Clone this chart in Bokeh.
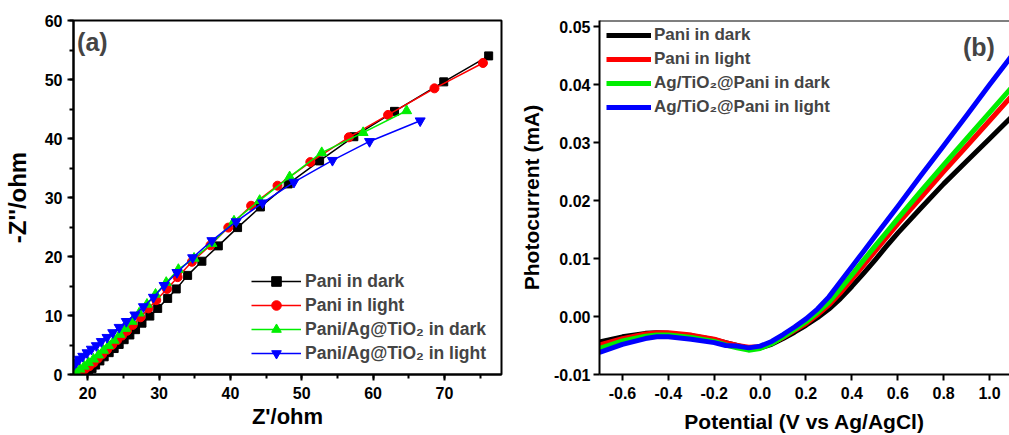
from bokeh.plotting import figure
from bokeh.layouts import row
from bokeh.models import (Range1d, SingleIntervalTicker, NumeralTickFormatter, Legend,
                          LegendItem, Label, Span)
from bokeh.embed import file_html
from bokeh.resources import INLINE

FONT = "Liberation Sans"

# ---------------- Panel (a): Nyquist data ----------------
dark_x = [19.6, 20.1, 20.6, 21.1, 21.7, 22.3, 23.0, 23.7, 24.4, 25.1, 25.9, 26.7, 27.6, 28.7,
          29.8, 31.2, 32.4, 34.0, 36.0, 38.3, 41.0, 44.2, 48.1, 52.5, 57.3, 63.0, 69.9, 76.2]
dark_y = [0.0, 0.5, 1.0, 1.6, 2.3, 3.0, 3.7, 4.4, 5.1, 5.9, 6.7, 7.6, 8.7, 9.9,
          11.2, 12.9, 14.5, 16.8, 19.2, 21.8, 24.9, 28.4, 32.3, 36.2, 40.3, 44.6, 49.6, 54.0]

light_x = [18.5, 19.0, 19.6, 20.2, 20.8, 21.4, 22.0, 22.7, 23.4, 24.1, 24.8, 25.5, 26.3, 27.4,
           28.5, 29.6, 31.1, 32.6, 34.6, 37.2, 39.7, 42.9, 46.6, 51.2, 56.6, 62.1, 68.6, 75.4]
light_y = [0.0, 0.4, 0.9, 1.4, 2.0, 2.7, 3.4, 4.2, 5.0, 5.8, 6.6, 7.4, 8.4, 9.7,
           11.2, 12.6, 14.5, 16.5, 19.1, 21.9, 24.9, 28.6, 32.0, 36.0, 40.2, 44.0, 48.5, 52.8]

agd_x = [18.3, 18.9, 19.5, 20.1, 20.8, 21.5, 22.2, 22.9, 23.7, 24.5, 25.3, 26.2, 27.2, 28.3,
         29.5, 31.0, 32.7, 34.9, 37.4, 40.5, 44.1, 48.3, 52.8, 58.6, 64.7]
agd_y = [0.5, 0.9, 1.4, 2.0, 2.6, 3.3, 4.1, 4.9, 5.8, 6.8, 7.8, 9.0, 10.4, 11.9,
         13.6, 15.6, 17.8, 19.7, 22.2, 26.0, 29.5, 33.5, 37.6, 41.0, 44.7]

agl_x = [18.1, 18.4, 18.8, 19.3, 19.9, 20.5, 21.2, 21.9, 22.7, 23.5, 24.4, 25.4, 26.6, 27.8,
         29.2, 30.7, 32.5, 34.7, 37.4, 40.8, 44.5, 48.9, 54.3, 59.5, 66.6]
agl_y = [1.7, 2.1, 2.6, 3.1, 3.7, 4.3, 4.9, 5.6, 6.3, 7.1, 8.0, 9.0, 10.1, 11.5,
         13.1, 15.1, 17.3, 19.8, 22.7, 25.9, 29.1, 32.6, 36.3, 39.5, 43.0]

labels_a = ["Pani in dark", "Pani in light", "Pani/Ag@TiO\u2082 in dark", "Pani/Ag@TiO\u2082 in light"]

# ---------------- Panel (b): photocurrent data ----------------
pot = [-0.7, -0.6, -0.5, -0.45, -0.4, -0.3, -0.2, -0.15, -0.1, -0.05, 0.0, 0.05, 0.1, 0.15,
       0.2, 0.25, 0.3, 0.35, 0.4, 0.45, 0.5, 0.55, 0.6, 0.7, 0.8, 0.9, 1.0, 1.1]
pc_dark = [-0.0044, -0.0035, -0.0029, -0.0028, -0.0029, -0.0033, -0.0040, -0.0045, -0.0050,
           -0.0055, -0.0054, -0.0048, -0.0038, -0.0027, -0.0015, -0.0002, 0.0013, 0.0031,
           0.0052, 0.0074, 0.0097, 0.0121, 0.0144, 0.0187, 0.0229, 0.0268, 0.0307, 0.0346]
pc_light = [-0.0049, -0.0038, -0.0030, -0.0028, -0.0028, -0.0032, -0.0039, -0.0045, -0.0050,
            -0.0053, -0.0052, -0.0046, -0.0036, -0.0024, -0.0012, 0.0003, 0.0020, 0.0041,
            0.0064, 0.0088, 0.0112, 0.0136, 0.0160, 0.0205, 0.0250, 0.0294, 0.0338, 0.0382]
pc_agd = [-0.0055, -0.0042, -0.0034, -0.0032, -0.0032, -0.0036, -0.0043, -0.0049, -0.0054,
          -0.0058, -0.0055, -0.0047, -0.0035, -0.0022, -0.0009, 0.0007, 0.0025, 0.0048,
          0.0072, 0.0097, 0.0121, 0.0145, 0.0169, 0.0216, 0.0262, 0.0307, 0.0352, 0.0397]
pc_agl = [-0.0062, -0.0048, -0.0038, -0.0035, -0.0035, -0.0039, -0.0045, -0.0050, -0.0051,
          -0.0054, -0.0051, -0.0043, -0.0031, -0.0018, -0.0004, 0.0013, 0.0034, 0.0060,
          0.0086, 0.0112, 0.0138, 0.0164, 0.0190, 0.0243, 0.0295, 0.0347, 0.0400, 0.0452]

labels_b = ["Pani in dark", "Pani in light", "Ag/TiO\u2082@Pani in dark", "Ag/TiO\u2082@Pani in light"]

colors = ["#000000", "#ff0000", "#00ee00", "#0000ff"]


def style_axes(p, tick_fs, label_fs, minor=True):
    for ax in (p.xaxis, p.yaxis):
        ax.axis_line_width = 2
        ax.major_tick_line_width = 2
        ax.minor_tick_line_width = 2
        ax.major_tick_in = 0
        ax.major_tick_out = 6
        ax.minor_tick_in = 0
        ax.minor_tick_out = 4 if minor else 0
        if not minor:
            ax.minor_tick_line_color = None
        ax.major_label_text_font = FONT
        ax.major_label_text_font_style = "bold"
        ax.major_label_text_font_size = tick_fs
        ax.major_label_text_color = "black"
        ax.axis_label_text_font = FONT
        ax.axis_label_text_font_style = "bold"
        ax.axis_label_text_font_size = label_fs
        ax.axis_label_text_color = "black"


# ---------------- figure (a) ----------------
p1 = figure(width=505, height=435, x_range=Range1d(18, 78), y_range=Range1d(0, 60),
            output_backend="svg", toolbar_location=None,
            min_border_left=73, min_border_right=4, min_border_top=20, min_border_bottom=58)
p1.grid.visible = False
p1.outline_line_color = "black"
p1.outline_line_width = 2
p1.outline_line_alpha = 1
p1.xaxis.ticker = SingleIntervalTicker(interval=10, num_minor_ticks=2)
p1.yaxis.ticker = SingleIntervalTicker(interval=10, num_minor_ticks=2)
p1.xaxis.axis_label = "Z'/ohm"
p1.yaxis.axis_label = "-Z''/ohm"
style_axes(p1, "16px", "22px", minor=True)
p1.yaxis.axis_label_text_font_size = "24px"
p1.xaxis.major_label_standoff = 6
p1.yaxis.major_label_standoff = 5
p1.xaxis.axis_label_standoff = 2
p1.yaxis.axis_label_standoff = 11

series_a = [(dark_x, dark_y, "square", 8), (light_x, light_y, "circle", 9),
            (agd_x, agd_y, "triangle", 10), (agl_x, agl_y, "inverted_triangle", 10)]
items_a = []
for (xs, ys, mk, sz), col, lab in zip(series_a, colors, labels_a):
    lr = p1.line(xs, ys, line_color=col, line_width=1.5)
    sr = p1.scatter(xs, ys, marker=mk, size=sz, fill_color=col, line_color=col)
    items_a.append(LegendItem(label=lab, renderers=[lr, sr]))

leg1 = Legend(items=items_a, location=(178, 9), padding=0, margin=0, spacing=0,
              label_height=24, glyph_height=24, glyph_width=50, label_standoff=4,
              label_text_font=FONT, label_text_font_style="bold", label_text_font_size="17.5px",
              background_fill_alpha=0, border_line_color=None)
p1.add_layout(leg1)
p1.add_layout(Label(x=18.5, y=56.3, text="(a)", text_font=FONT, text_font_style="bold",
                    text_font_size="25px", text_baseline="middle"))

# ---------------- figure (b) ----------------
p2 = figure(width=504, height=435, x_range=Range1d(-0.7, 1.087), y_range=Range1d(-0.01, 0.0511),
            output_backend="svg", toolbar_location=None,
            min_border_left=94, min_border_right=0, min_border_top=16, min_border_bottom=61)
p2.grid.visible = False
p2.outline_line_color = None
p2.xaxis.ticker = SingleIntervalTicker(interval=0.2, num_minor_ticks=0)
p2.yaxis.ticker = SingleIntervalTicker(interval=0.01, num_minor_ticks=0)
p2.xaxis.formatter = NumeralTickFormatter(format="0.0")
p2.yaxis.formatter = NumeralTickFormatter(format="0.00")
p2.xaxis.axis_label = "Potential (V vs Ag/AgCl)"
p2.yaxis.axis_label = "Photocurrent (mA)"
style_axes(p2, "16px", "21px", minor=False)
p2.xaxis.major_label_standoff = 6
p2.yaxis.major_label_standoff = 3
p2.xaxis.axis_label_standoff = 8
p2.yaxis.axis_label_standoff = 8
p2.add_layout(Span(location=0.0511, dimension="width", line_color="black", line_width=2))

items_b = []
for ys, col, lab in zip([pc_dark, pc_light, pc_agd, pc_agl], colors, labels_b):
    r = p2.line(pot, ys, line_color=col, line_width=5, line_join="round")
    items_b.append(LegendItem(label=lab, renderers=[r]))

leg2 = Legend(items=items_b, location=(7, 255), padding=0, margin=0, spacing=0,
              label_height=24, glyph_height=24, glyph_width=45, label_standoff=3,
              label_text_font=FONT, label_text_font_style="bold", label_text_font_size="17px",
              background_fill_alpha=0, border_line_color=None)
p2.add_layout(leg2)
p2.add_layout(Label(x=0.884, y=0.0466, text="(b)", text_font=FONT, text_font_style="bold",
                    text_font_size="25px", text_baseline="middle"))

layout = row(p1, p2)
open("out.html", "w").write(file_html(layout, INLINE))
